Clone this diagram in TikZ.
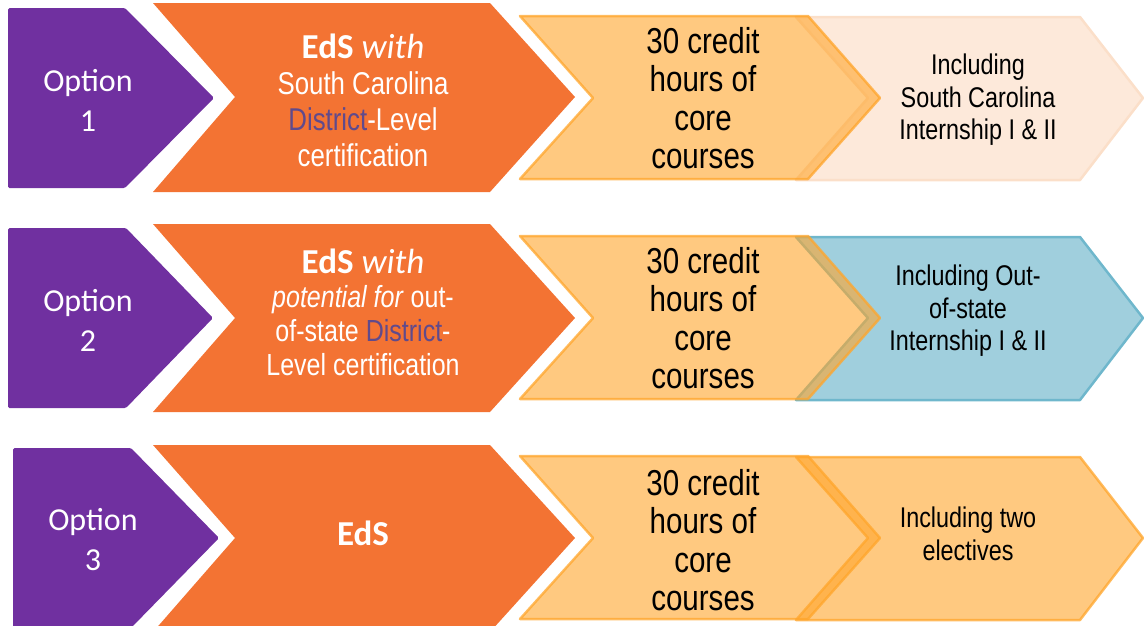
\documentclass[tikz,border=0pt]{standalone}
\usepackage{fontspec}
\setmainfont{Carlito}
\newfontfamily\narrowfont[FakeStretch=0.82]{Liberation Sans}

\definecolor{optpurple}{HTML}{7030A0}
\definecolor{edsorange}{HTML}{F37333}
\definecolor{coreorange}{HTML}{FFA52B}
\definecolor{scpeach}{HTML}{FDE9DA}
\definecolor{scpeachline}{HTML}{FBDFC9}
\definecolor{oosblue}{HTML}{A0CFDD}
\definecolor{oosblueline}{HTML}{6FB7CC}
\definecolor{distpurple}{HTML}{604A8C}

\begin{document}
\begin{tikzpicture}[x=1pt, y=-1pt,
	optbox/.style={fill=optpurple, rounded corners=1.5pt},
	edsbox/.style={fill=edsorange},
	corebox/.style={fill=coreorange, fill opacity=0.6, draw=coreorange, draw opacity=0.75, line width=2.5pt, line join=round},
	scbox/.style={fill=scpeach, draw=scpeachline, line width=2.5pt, line join=round},
	oosbox/.style={fill=oosblue, draw=oosblueline, line width=2.5pt, line join=round},
	opttext/.style={text=white, align=center, inner sep=0pt, font=\fontsize{32}{40}\selectfont},
	edstext/.style={text=white, align=center, inner sep=0pt, font=\narrowfont\fontsize{31.5}{36}\selectfont},
	coretext/.style={text=black, align=center, inner sep=0pt, font=\narrowfont\fontsize{36}{38.5}\selectfont},
	incltext/.style={text=black, align=center, inner sep=0pt, font=\narrowfont\fontsize{28.5}{32.5}\selectfont}]
	
	\clip (0,0) rectangle (1144,625);
	
	% option arrows
	\fill [optbox] (8,8) -- (125,8) -- (214,98) -- (125,188) -- (8,188) -- cycle;
	\fill [optbox] (8,228) -- (126,228) -- (213,318) -- (126,408) -- (8,408) -- cycle;
	\fill [optbox] (13,448) -- (131,448) -- (219,538) -- (131,628) -- (13,628) -- cycle;
	
	% degree arrows
	\fill [edsbox] (153,3) -- (490,3) -- (575,97) -- (490,192) -- (153,192) -- (235,97) -- cycle;
	\fill [edsbox] (153,224) -- (490,224) -- (575,318) -- (490,412) -- (153,412) -- (235,318) -- cycle;
	\fill [edsbox] (153,445) -- (490,445) -- (575,538) -- (490,632) -- (153,632) -- (235,538) -- cycle;
	
	% internship / elective arrows
	\filldraw [scbox] (796,17) -- (1080,17) -- (1143,98) -- (1080,180) -- (796,180) -- (868,98) -- cycle;
	\filldraw [oosbox] (796,237) -- (1080,237) -- (1143,318) -- (1080,400) -- (796,400) -- (868,318) -- cycle;
	\filldraw [corebox] (796,457) -- (1080,457) -- (1143,538) -- (1080,620) -- (796,620) -- (868,538) -- cycle;
	
	% core course arrows, on top
	\foreach \y in {0,220,440}
		\filldraw [corebox] (520,16+\y) -- (808,16+\y) -- (880,98+\y) -- (808,179+\y) -- (520,179+\y) -- (593,98+\y) -- cycle;
	
	% texts
	\node [opttext] (OP1) at (88,100) {Option\\1};
	\node [opttext] (OP2) at (88,320) {Option\\2};
	\node [opttext] (OP3) at (93,540) {Option\\3};
	
	\node [edstext] (EDS1) at (363,100) {{\rmfamily\fontsize{35}{36}\selectfont\textbf{EdS} \textit{with}}\\South Carolina\\{\color{distpurple}District}-Level\\certification};
	\node [edstext, font=\narrowfont\fontsize{30.5}{34}\selectfont] (EDS2) at (363,312) {{\rmfamily\fontsize{35}{34}\selectfont\textbf{EdS} \textit{with}}\\\textit{potential for} out-\\of-state {\color{distpurple}District}-\\Level certification};
	\node [text=white, inner sep=0pt, font=\fontsize{35}{36}\selectfont\bfseries] (EDS3) at (363,533) {EdS};
	
	\node [coretext] (CORE1) at (703,98) {30 credit\\hours of\\core\\courses};
	\node [coretext] (CORE2) at (703,318) {30 credit\\hours of\\core\\courses};
	\node [coretext] (CORE3) at (703,540) {30 credit\\hours of\\core\\courses};
	
	\node [incltext] (INC1) at (978,100) {Including\\South Carolina\\Internship I \& II};
	\node [incltext] (INC2) at (968,311) {Including Out-\\of-state\\Internship I \& II};
	\node [incltext] (INC3) at (968,534) {Including two\\electives};
	
\end{tikzpicture}
\end{document}
